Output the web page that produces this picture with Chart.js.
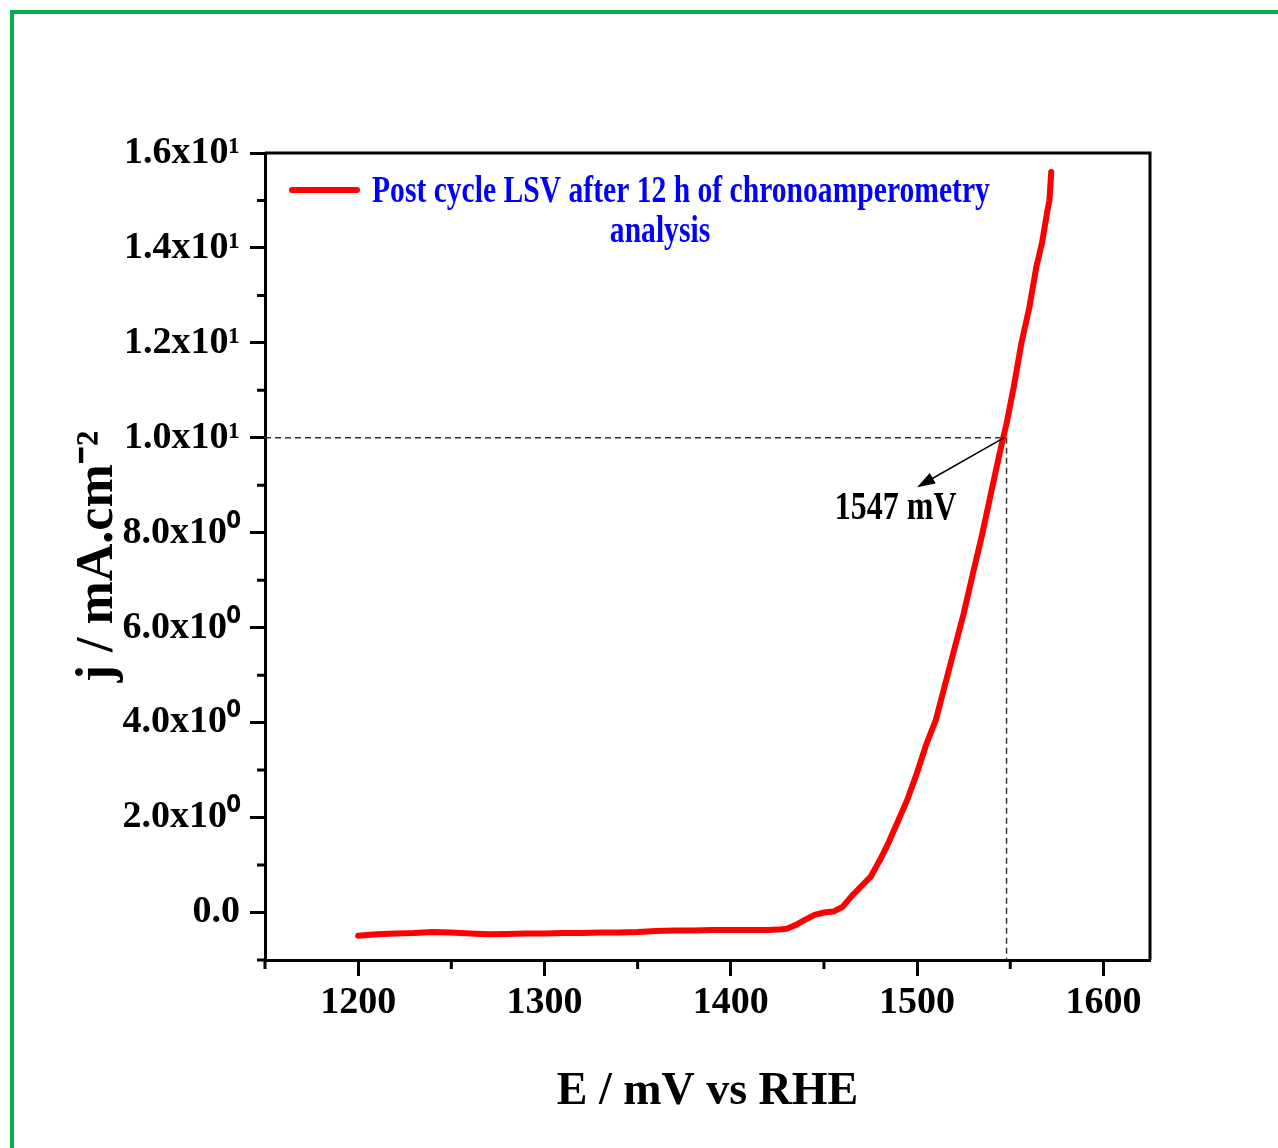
<!DOCTYPE html>
<html>
<head>
<meta charset="utf-8">
<script src="https://cdn.jsdelivr.net/npm/chart.js@4.4.1/dist/chart.umd.min.js"></script>
<style>
  html, body { margin: 0; padding: 0; background: #fff; }
  #wrap { position: relative; width: 1278px; height: 1148px; overflow: hidden; }
  #frame { position: absolute; left: 10px; top: 10px; width: 1400px; height: 1300px;
           border-left: 4px solid #00b050; border-top: 4px solid #00b050; }
  #lsv { position: absolute; left: 0; top: 0; }
</style>
</head>
<body>
<div id="wrap">
  <div id="frame"></div>
  <canvas id="lsv" width="1278" height="1148"></canvas>
</div>
<script>
// potential (mV vs RHE) and current density (mA/cm2)
const potential = [1200, 1210, 1220, 1230, 1240, 1250, 1260, 1270, 1280, 1290,
  1300, 1310, 1320, 1330, 1340, 1350, 1360, 1370, 1380, 1390,
  1400, 1410, 1420, 1425, 1430, 1435, 1440, 1445, 1450, 1455,
  1460, 1465, 1470, 1475, 1480, 1485, 1490, 1495, 1500, 1505,
  1510, 1515, 1520, 1525, 1530, 1535, 1540, 1545, 1548, 1552,
  1556, 1560, 1564, 1567, 1570, 1571, 1572];
const current = [-0.49, -0.46, -0.44, -0.43, -0.41, -0.42, -0.44, -0.46, -0.45, -0.44,
  -0.44, -0.43, -0.43, -0.42, -0.42, -0.41, -0.39, -0.38, -0.38, -0.37,
  -0.37, -0.37, -0.37, -0.36, -0.34, -0.26, -0.15, -0.05, 0.0, 0.02,
  0.12, 0.35, 0.55, 0.75, 1.1, 1.5, 1.95, 2.4, 2.95, 3.55,
  4.05, 4.8, 5.55, 6.3, 7.15, 7.98, 8.9, 9.8, 10.3, 11.1,
  12.0, 12.7, 13.6, 14.1, 14.8, 15.0, 15.6];

const xTicks = [1200, 1300, 1400, 1500, 1600];
const xMinorTicks = [1150, 1250, 1350, 1450, 1550];
const yTicks = [0, 2, 4, 6, 8, 10, 12, 14, 16];
const yTickLabels = ['0.0', '2.0x10\u2070', '4.0x10\u2070', '6.0x10\u2070', '8.0x10\u2070',
  '1.0x10\u00b9', '1.2x10\u00b9', '1.4x10\u00b9', '1.6x10\u00b9'];
const yMinorTicks = [-1, 1, 3, 5, 7, 9, 11, 13, 15];

const seriesName = ['Post cycle LSV after 12 h of chronoamperometry', 'analysis'];
const markE = 1548;   // where the dashed guide crosses 10 mA/cm2
const markJ = 10;
const markLabel = '1547 mV';

const serif = '"Liberation Serif", "Times New Roman", serif';

// condensed text helper (the original uses a narrow bold Times)
function squeezeText(ctx, text, x, y, size, color, align) {
  ctx.save();
  ctx.font = 'bold ' + size + 'px ' + serif;
  ctx.fillStyle = color;
  ctx.textBaseline = 'middle';
  ctx.textAlign = align;
  ctx.translate(x, y);
  ctx.scale(0.8, 1);
  ctx.fillText(text, 0, 0);
  ctx.restore();
}

const extras = {
  id: 'extras',
  beforeDatasetsDraw(chart) {
    const {ctx, scales: {x, y}, chartArea: a} = chart;
    const px = x.getPixelForValue(markE), py = y.getPixelForValue(markJ);
    ctx.save();
    ctx.strokeStyle = '#333';
    ctx.lineWidth = 1.5;
    ctx.setLineDash([6, 4]);
    ctx.beginPath();
    ctx.moveTo(a.left, py);
    ctx.lineTo(px, py);
    ctx.moveTo(px, py);
    ctx.lineTo(px, a.bottom);
    ctx.stroke();
    ctx.restore();
  },
  afterDraw(chart) {
    const {ctx, scales: {x, y}, chartArea: a} = chart;
    ctx.save();
    // top + right frame
    ctx.strokeStyle = '#000';
    ctx.lineWidth = 3;
    ctx.beginPath();
    ctx.moveTo(a.left, a.top);
    ctx.lineTo(a.right, a.top);
    ctx.lineTo(a.right, a.bottom);
    ctx.stroke();
    // minor ticks
    ctx.beginPath();
    xMinorTicks.forEach(v => {
      const p = x.getPixelForValue(v);
      ctx.moveTo(p, a.bottom);
      ctx.lineTo(p, a.bottom + 9);
    });
    yMinorTicks.forEach(v => {
      const p = y.getPixelForValue(v);
      ctx.moveTo(a.left, p);
      ctx.lineTo(a.left - 8, p);
    });
    ctx.stroke();

    // arrow from the 10 mA/cm2 point to the label
    const x0 = x.getPixelForValue(1546.5), y0 = y.getPixelForValue(markJ);
    const x1 = x.getPixelForValue(1500), y1 = y.getPixelForValue(8.96);
    const ang = Math.atan2(y1 - y0, x1 - x0);
    ctx.lineWidth = 1.5;
    ctx.beginPath();
    ctx.moveTo(x0, y0);
    ctx.lineTo(x1 - 14 * Math.cos(ang), y1 - 14 * Math.sin(ang));
    ctx.stroke();
    ctx.fillStyle = '#000';
    ctx.beginPath();
    ctx.moveTo(x1, y1);
    ctx.lineTo(x1 - 18 * Math.cos(ang) + 6 * Math.sin(ang), y1 - 18 * Math.sin(ang) - 6 * Math.cos(ang));
    ctx.lineTo(x1 - 18 * Math.cos(ang) - 6 * Math.sin(ang), y1 - 18 * Math.sin(ang) + 6 * Math.cos(ang));
    ctx.closePath();
    ctx.fill();
    squeezeText(ctx, markLabel, x.getPixelForValue(1488.5), y.getPixelForValue(8.5), 40, '#000', 'center');

    // legend
    ctx.strokeStyle = '#ff0000';
    ctx.lineWidth = 6;
    ctx.lineCap = 'round';
    ctx.beginPath();
    ctx.moveTo(a.left + 27, a.top + 37);
    ctx.lineTo(a.left + 92, a.top + 37);
    ctx.stroke();
    squeezeText(ctx, seriesName[0], a.left + 107, a.top + 39, 37, '#0000ff', 'left');
    squeezeText(ctx, seriesName[1], a.left + 395, a.top + 79, 37, '#0000ff', 'center');
    ctx.restore();
  }
};

new Chart(document.getElementById('lsv'), {
  type: 'line',
  data: {
    labels: potential,
    datasets: [{
      label: seriesName.join(' '),
      data: potential.map((e, i) => ({x: e, y: current[i]})),
      borderColor: '#ff0000',
      backgroundColor: '#ff0000',
      borderWidth: 6,
      borderCapStyle: 'round',
      borderJoinStyle: 'round',
      pointRadius: 0,
      tension: 0
    }]
  },
  options: {
    responsive: false,
    animation: false,
    layout: {padding: {top: 153, right: 128, left: 0, bottom: 0}},
    plugins: {legend: {display: false}, tooltip: {enabled: false}},
    scales: {
      x: {
        type: 'linear',
        min: 1150,
        max: 1625,
        afterBuildTicks: s => { s.ticks = xTicks.map(v => ({value: v})); },
        afterFit: s => { s.height = 188; },
        border: {display: true, color: '#000', width: 3},
        grid: {drawOnChartArea: false, drawTicks: true, tickLength: 16, tickWidth: 3, tickColor: '#000'},
        ticks: {
          color: '#000',
          padding: 4,
          maxRotation: 0,
          font: {family: serif, size: 38, weight: 'bold'},
          callback: v => String(v)
        },
        title: {
          display: true,
          text: 'E / mV vs RHE',
          color: '#000',
          font: {family: serif, size: 46, weight: 'bold'},
          padding: {top: 0, bottom: 28}
        }
      },
      y: {
        min: -1,
        max: 16,
        afterBuildTicks: s => { s.ticks = yTicks.map(v => ({value: v})); },
        afterFit: s => { s.width = 265; },
        border: {display: true, color: '#000', width: 3},
        grid: {drawOnChartArea: false, drawTicks: true, tickLength: 15, tickWidth: 3, tickColor: '#000'},
        ticks: {
          color: '#000',
          padding: 10,
          font: {family: serif, size: 38, weight: 'bold'},
          callback: v => yTickLabels[yTicks.indexOf(v)]
        },
        title: {
          display: true,
          text: 'j / mA.cm\u207b\u00b2',
          color: '#000',
          font: {family: serif, size: 52, weight: 'bold'},
          padding: {top: 67, bottom: 0}
        }
      }
    }
  },
  plugins: [extras]
});
</script>
</body>
</html>
